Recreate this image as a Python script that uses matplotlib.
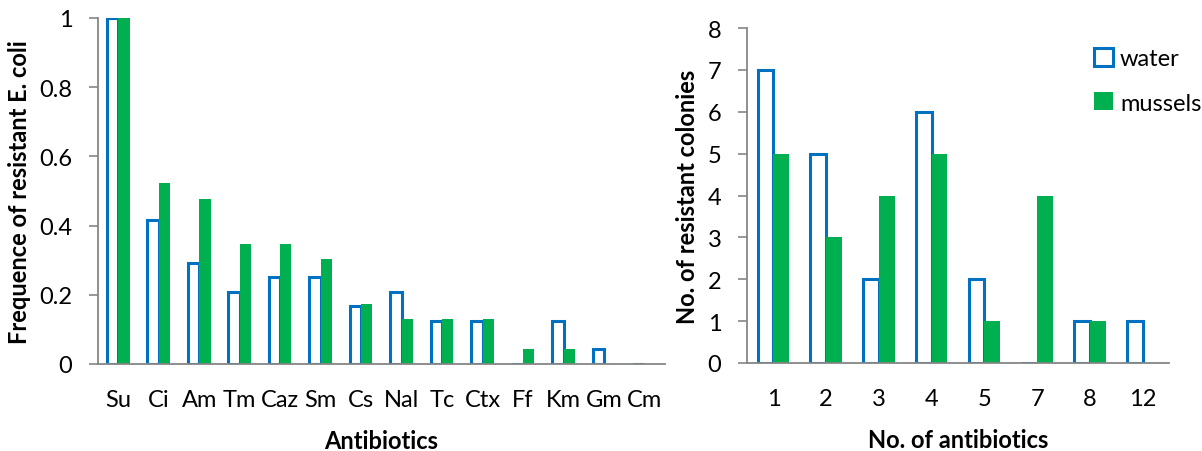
import numpy as np
import matplotlib.pyplot as plt
from matplotlib.patches import Patch

plt.rcParams['font.family'] = ['Lato', 'DejaVu Sans']

# left panel: frequency of resistant E. coli per antibiotic
antibiotics = ["Su", "Ci", "Am", "Tm", "Caz", "Sm", "Cs", "Nal", "Tc", "Ctx", "Ff", "Km", "Gm", "Cm"]
freq_water = [1.0, 0.417, 0.292, 0.208, 0.25, 0.25, 0.167, 0.208, 0.125, 0.125, 0.0, 0.125, 0.042, 0.0]
freq_mussels = [1.0, 0.522, 0.478, 0.348, 0.348, 0.304, 0.174, 0.13, 0.13, 0.13, 0.043, 0.043, 0.0, 0.0]

# right panel: number of resistant colonies per number of antibiotics
n_antibiotics = ["1", "2", "3", "4", "5", "7", "8", "12"]
col_water = [7, 5, 2, 6, 2, 0, 1, 1]
col_mussels = [5, 3, 4, 5, 1, 4, 1, 0]

blue = "#0070C0"
green = "#00B050"
grey = "#868686"

fig = plt.figure(figsize=(12.02, 4.52), dpi=100)
ax1 = fig.add_axes([0.0815, 0.1925, 0.4715, 0.7655])
ax2 = fig.add_axes([0.6215, 0.1947, 0.351, 0.7411])


def style(ax):
    for s in ["top", "right"]:
        ax.spines[s].set_visible(False)
    for s in ["left", "bottom"]:
        ax.spines[s].set_color(grey)
        ax.spines[s].set_linewidth(1.3)
    ax.tick_params(axis="y", direction="out", length=6.5, width=1.2, color=grey, labelsize=17, pad=12)
    ax.tick_params(axis="x", length=0, labelsize=17, pad=18)


x = np.arange(len(antibiotics))
w = 0.28
ax1.bar(x - w / 2, freq_water, w, facecolor="white", edgecolor=blue, linewidth=2.2)
ax1.bar(x + w / 2, freq_mussels, w, color=green)
ax1.set_xlim(-0.5, len(antibiotics) - 0.5)
ax1.set_ylim(0, 1)
ax1.set_yticks([0, 0.2, 0.4, 0.6, 0.8, 1])
ax1.set_yticklabels(["0", "0.2", "0.4", "0.6", "0.8", "1"])
ax1.set_xticks(x)
ax1.set_xticklabels(antibiotics)
ax1.set_xlabel("Antibiotics", fontsize=17, fontweight="bold", labelpad=14)
ax1.set_ylabel("Frequence of resistant E. coli", fontsize=17, fontweight="bold", labelpad=6)
style(ax1)

x2 = np.arange(len(n_antibiotics))
w2 = 0.3
ax2.bar(x2 - w2 / 2, col_water, w2, facecolor="white", edgecolor=blue, linewidth=2.2)
ax2.bar(x2 + w2 / 2, col_mussels, w2, color=green)
ax2.set_xlim(-0.5, len(n_antibiotics) - 0.5)
ax2.set_ylim(0, 8)
ax2.set_yticks(range(0, 9))
ax2.set_xticks(x2)
ax2.set_xticklabels(n_antibiotics)
ax2.set_xlabel("No. of antibiotics", fontsize=17, fontweight="bold", labelpad=14)
ax2.set_ylabel("No. of resistant colonies", fontsize=17, fontweight="bold", labelpad=6)
style(ax2)

handles = [Patch(facecolor="white", edgecolor=blue, linewidth=2.2, label="water"),
           Patch(facecolor=green, label="mussels")]
ax2.legend(handles=handles, loc="upper left", bbox_to_anchor=(0.8, 0.97), frameon=False,
           fontsize=17, handlelength=0.8, handleheight=0.8, handletextpad=0.3, labelspacing=1.0,
           borderaxespad=0)

plt.savefig("out.png")
